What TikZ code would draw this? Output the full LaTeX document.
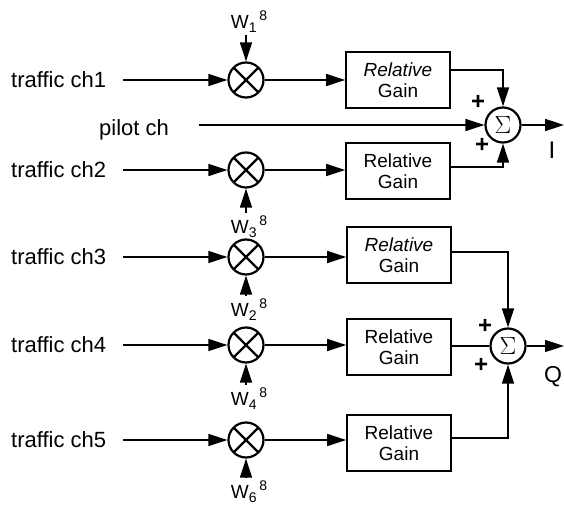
\documentclass[tikz,border=0pt]{standalone}
\usepackage{fontspec}
\setmainfont{Liberation Sans}
\usetikzlibrary{arrows.meta}
\newcommand{\wlab}[1]{W\rlap{\raisebox{-0.45ex}{\fontsize{14}{14}\selectfont #1}}\hspace{0.55em}\raisebox{0.75ex}{\fontsize{14}{14}\selectfont 8}}
\begin{document}
\begin{tikzpicture}[x=1pt,y=-1pt,
  arr/.style={line width=1.6pt,-{Triangle[length=19pt,width=12pt]}},
  ln/.style={line width=1.6pt},
  mult/.style={circle,draw,line width=2.2pt,minimum size=35pt,inner sep=0pt,
    path picture={\draw[line width=2.2pt] (path picture bounding box.north west) -- (path picture bounding box.south east)
      (path picture bounding box.north east) -- (path picture bounding box.south west);}},
  summ/.style={circle,draw,line width=2.2pt,minimum size=35pt,inner sep=0pt,font=\fontsize{24}{24}\selectfont},
  gain/.style={draw,line width=1.7pt,minimum width=104pt,minimum height=56pt,inner sep=0pt,align=center,
    font=\fontsize{19}{21}\selectfont},
  lab/.style={anchor=west,inner sep=0pt,font=\fontsize{22}{22}\selectfont},
  wl/.style={inner sep=0pt,font=\fontsize{19}{19}\selectfont},
  pm/.style={inner sep=0pt,font=\fontsize{24}{24}\selectfont\bfseries}
]
\useasboundingbox (0,0) rectangle (564,505);
% input labels
\node[lab] (t1) at (11,80) {traffic ch1};
\node[lab] (p)  at (99,130) {pilot ch};
\node[lab] (t2) at (11,170) {traffic ch2};
\node[lab] (t3) at (11,257) {traffic ch3};
\node[lab] (t4) at (11,345) {traffic ch4};
\node[lab] (t5) at (11,440) {traffic ch5};
% multipliers
\node[mult] (m1) at (246,80) {};
\node[mult] (m2) at (246,170) {};
\node[mult] (m3) at (246,257) {};
\node[mult] (m4) at (246,345) {};
\node[mult] (m5) at (246,440) {};
% code labels
\node[wl] (w1) at (249,22) {\wlab{1}};
\node[wl] (w3) at (249,227) {\wlab{3}};
\node[wl] (w2) at (249,310) {\wlab{2}};
\node[wl] (w4) at (249,399) {\wlab{4}};
\node[wl] (w6) at (249,492) {\wlab{6}};
% gains
\node[gain] (b1) at (398,80) {\textit{Relative}\\Gain};
\node[gain] (b2) at (398,171) {Relative\\Gain};
\node[gain] (b3) at (399,255) {\textit{Relative}\\Gain};
\node[gain] (b4) at (399,347) {Relative\\Gain};
\node[gain] (b5) at (399,443) {Relative\\Gain};
% summers
\node[summ] (sI) at (503,125) {$\Sigma$};
\node[summ] (sQ) at (508,346) {$\Sigma$};
\coordinate (oI) at (564,125);
\coordinate (oQ) at (564,346);
\node[pm] (pI1) at (478,102) {+};
\node[pm] (pI2) at (482,145) {+};
\node[pm] (pQ1) at (485,326) {+};
\node[pm] (pQ2) at (481,365) {+};
\node[inner sep=0pt,font=\fontsize{24}{24}\selectfont] (I) at (552,150) {I};
\node[inner sep=0pt,font=\fontsize{23}{23}\selectfont] (Q) at (553,377) {Q};
% input arrows
\foreach \i in {1,...,5} {
  \draw[arr] ([xshift=17pt]t\i.east |- m\i.west) -- (m\i.west);
  \draw[arr] (m\i.east) -- (b\i.west |- m\i.east);
}
\draw[arr] ([xshift=30pt]p.east |- sI.west) -- (sI.west);
% code arrows
\draw[arr] ([yshift=-2pt]w1.south -| m1.north) -- (m1.north);
\draw[arr] ([yshift=3pt]w3.north -| m2.south) -- (m2.south);
\draw[arr] ([yshift=3pt]w2.north -| m3.south) -- (m3.south);
\draw[arr] ([yshift=3pt]w4.north -| m4.south) -- (m4.south);
\draw[arr] ([yshift=3pt]w6.north -| m5.south) -- (m5.south);
% gains to summers
\draw[arr] ([yshift=10pt]b1.east) -| (sI.north);
\draw[arr] ([yshift=4pt]b2.east) -| (sI.south);
\draw[arr] ([yshift=3pt]b3.east) -| (sQ.north);
\draw[ln] (b4.east |- sQ.west) -- (sQ.west);
\draw[arr] ([yshift=5pt]b5.east) -| (sQ.south);
% outputs
\draw[arr] (sI.east) -- (oI);
\draw[arr] (sQ.east) -- (oQ);
\end{tikzpicture}
\end{document}
